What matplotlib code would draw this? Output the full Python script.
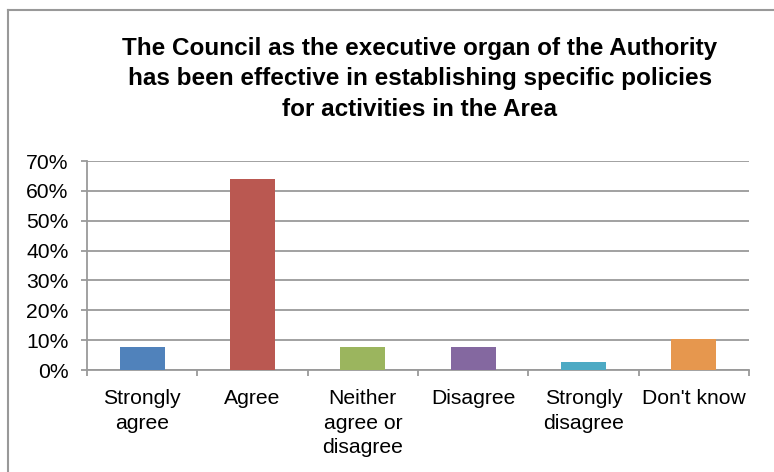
import matplotlib.pyplot as plt
from matplotlib.lines import Line2D
from matplotlib.ticker import FuncFormatter, FixedLocator
import numpy as np

plt.rcParams['font.family'] = ['Liberation Sans', 'DejaVu Sans']

categories = ['Strongly\nagree', 'Agree', 'Neither\nagree or\ndisagree',
              'Disagree', 'Strongly\ndisagree', "Don't know"]
values = [7.7, 64.1, 7.7, 7.7, 2.6, 10.3]
colors = ['#5082BB', '#BA5851', '#9BB55E', '#8468A0', '#4DAAC4', '#E6974E']
title = ('The Council as the executive organ of the Authority\n'
         'has been effective in establishing specific policies\n'
         'for activities in the Area')

fig = plt.figure(figsize=(7.74, 4.72), dpi=100)
ax = fig.add_axes([87 / 774, 1 - 370 / 472, (749 - 87) / 774, (370 - 161) / 472])

x = np.arange(len(categories))
ax.bar(x, values, width=0.41, color=colors, zorder=3)

ax.set_xlim(-0.5, len(categories) - 0.5)
ax.set_ylim(0, 70)
ax.set_yticks(range(0, 71, 10))
ax.yaxis.set_major_formatter(FuncFormatter(lambda v, p: f'{int(v)}%'))
ax.grid(axis='y', color='#9a9a9a', linewidth=1.3, zorder=0)

# category labels sit between boundary ticks
ax.set_xticks(x)
ax.set_xticklabels(categories, fontsize=15.2, linespacing=1.36)
ax.tick_params(axis='x', length=0, pad=14)
ax.xaxis.set_minor_locator(FixedLocator(np.arange(-0.5, len(categories), 1)))
ax.tick_params(axis='x', which='minor', length=4.3, width=1.3, color='#9a9a9a')
ax.tick_params(axis='y', length=4.3, width=1.3, color='#9a9a9a', labelsize=15.2, pad=9)

for side in ['top', 'right']:
    ax.spines[side].set_visible(False)
for side in ['left', 'bottom']:
    ax.spines[side].set_color('#9a9a9a')
    ax.spines[side].set_linewidth(1.3)

fig.text(420 / 774, 1 - 79 / 472, title, ha='center', va='center',
         fontsize=17.5, fontweight='bold', linespacing=1.42)

# chart area frame
fig.add_artist(Line2D([7.5 / 774, 1], [1 - 10 / 472, 1 - 10 / 472],
                      transform=fig.transFigure, color='#999999', linewidth=1.5))
fig.add_artist(Line2D([7.5 / 774, 7.5 / 774], [0, 1 - 10 / 472],
                      transform=fig.transFigure, color='#999999', linewidth=1.5))

fig.savefig('out.png', dpi=100)
